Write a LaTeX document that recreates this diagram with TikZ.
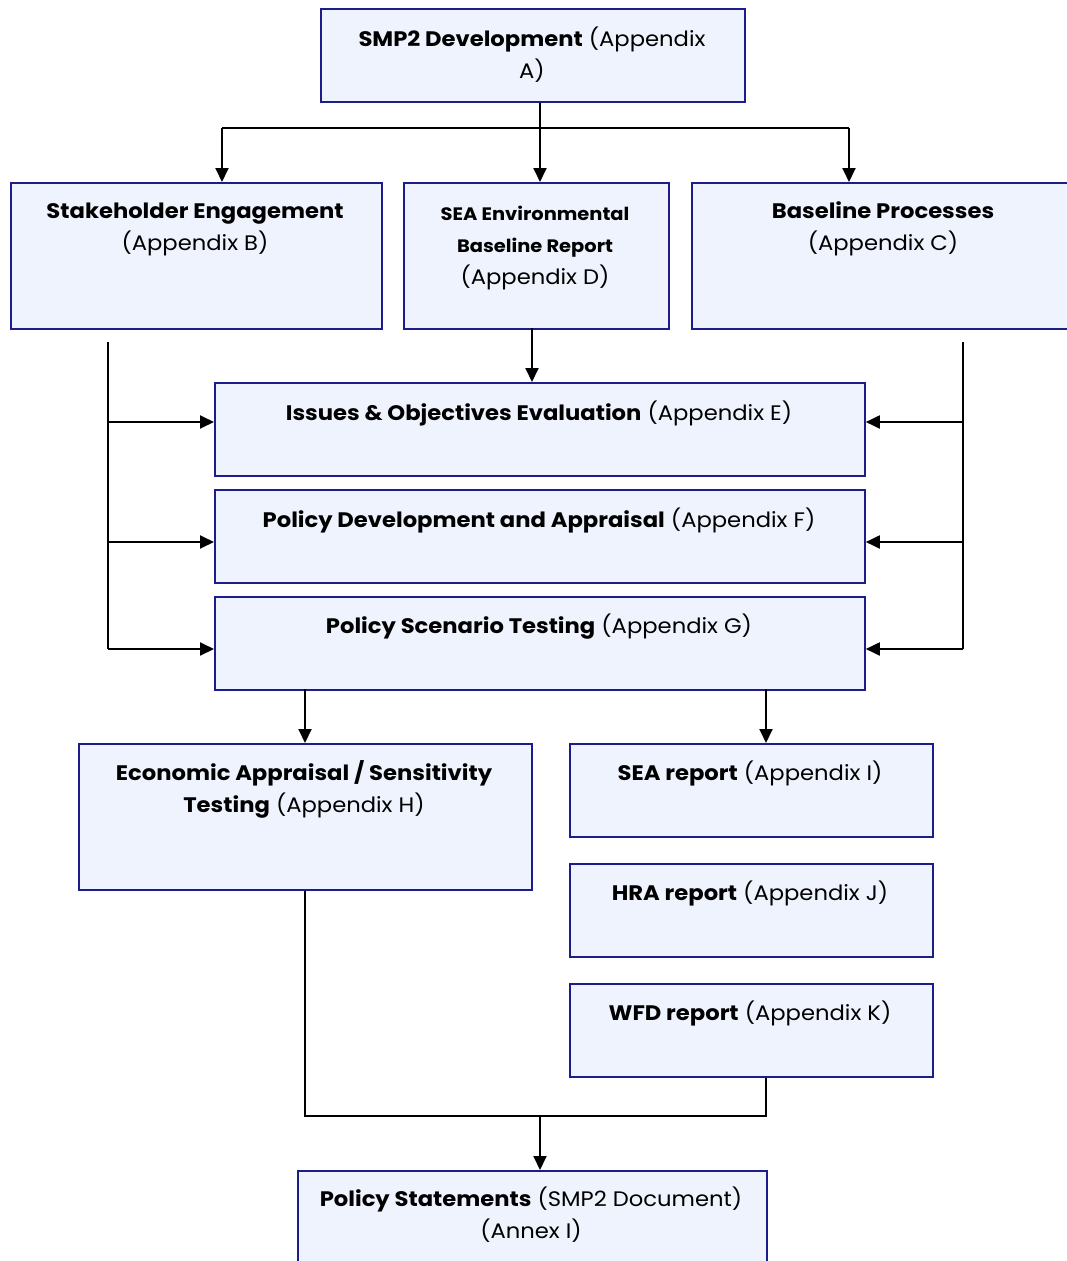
\documentclass[tikz,border=0pt]{standalone}
\usepackage{fontspec}
\setmainfont{Poppins}[FakeStretch=1.08]
\usetikzlibrary{arrows.meta}
\definecolor{boxfill}{HTML}{EEF3FE}
\definecolor{boxline}{HTML}{1C1C8A}
\tikzset{
  box/.style={draw=boxline, fill=boxfill, line width=1.8pt, inner sep=0pt},
  lbl/.style={anchor=north, inner sep=0pt, align=center, font=\fontsize{21}{32}\selectfont},
  conn/.style={line width=1.9pt, draw=black},
  arr/.style={conn, -{Triangle[length=14pt,width=13pt]}}
}
\newcommand{\mybox}[5]{% name, x1, y1, x2, y2
  \node[box, minimum width={#4-#2}, minimum height={#5-#3}, anchor=north west] (#1) at (#2,#3) {};}
\newcommand{\smallbf}[1]{{\fontsize{18}{32}\selectfont\textbf{#1}}}
\begin{document}
\begin{tikzpicture}[x=1pt,y=-1pt]
\useasboundingbox (0,0) rectangle (1067,1261);
\clip (0,0) rectangle (1067,1261);
% boxes
\mybox{A}{320}{8}{744}{101}
\mybox{B}{10}{182}{381}{328}
\mybox{D}{403}{182}{668}{328}
\mybox{C}{691}{182}{1080}{328}
\mybox{E}{214}{382}{864}{475}
\mybox{F}{214}{489}{864}{582}
\mybox{G}{214}{596}{864}{689}
\mybox{H}{78}{743}{531}{889}
\mybox{I}{569}{743}{932}{836}
\mybox{J}{569}{863}{932}{956}
\mybox{K}{569}{983}{932}{1076}
\mybox{P}{297}{1170}{766}{1275}
% labels
\node[lbl] (tA) at (532,27) {\textbf{SMP2 Development} (Appendix\\A)};
\node[lbl] (tB) at (195,203) {\textbf{Stakeholder Engagement}\\(Appendix B)};
\node[lbl] (tD) at (535,206) {\smallbf{SEA Environmental}\\\smallbf{Baseline Report}\\(Appendix D)};
\node[lbl] (tC) at (883,201) {\textbf{Baseline Processes}\\(Appendix C)};
\node[lbl] (tE) at (539,401) {\textbf{Issues \& Objectives Evaluation} (Appendix E)};
\node[lbl] (tF) at (539,508) {\textbf{Policy Development and Appraisal} (Appendix F)};
\node[lbl] (tG) at (539,614) {\textbf{Policy Scenario Testing} (Appendix G)};
\node[lbl] (tH) at (304,760) {\textbf{Economic Appraisal / Sensitivity}\\\textbf{Testing} (Appendix H)};
\node[lbl] (tI) at (750,761) {\textbf{SEA report} (Appendix I)};
\node[lbl] (tJ) at (750,881) {\textbf{HRA report} (Appendix J)};
\node[lbl] (tK) at (750,1001) {\textbf{WFD report} (Appendix K)};
\node[lbl] (tP) at (531,1187) {\textbf{Policy Statements} (SMP2 Document)\\(Annex I)};
% bus coordinates
\coordinate (topbus) at (540,128);
\coordinate (lb1) at (108,342);
\coordinate (lb2) at (108,649);
\coordinate (rb1) at (963,342);
\coordinate (rb2) at (963,649);
\coordinate (botbus) at (540,1116);
% connectors
\draw[conn] (A.south -| topbus) -- (topbus);
\draw[conn] (222,128) -- (849,128);
\draw[arr] (222,128) -- (222,182);
\draw[arr] (topbus) -- (topbus |- D.north);
\draw[arr] (849,128) -- (849,182);
\draw[arr] (532,328) -- (532,382);
\draw[conn] (lb1) -- (lb2);
\draw[arr] (108,422) -- (E.west |- 0,422);
\draw[arr] (108,542) -- (F.west |- 0,542);
\draw[arr] (lb2) -- (G.west |- lb2);
\draw[conn] (rb1) -- (rb2);
\draw[arr] (963,422) -- (E.east |- 0,422);
\draw[arr] (963,542) -- (F.east |- 0,542);
\draw[arr] (rb2) -- (G.east |- rb2);
\draw[arr] (305,689) -- (305,743);
\draw[arr] (766,689) -- (766,743);
\draw[conn] (H.south -| 305,0) |- (botbus) -| (K.south -| 766,0);
\draw[arr] (botbus) -- (P.north -| botbus);
\end{tikzpicture}
\end{document}
